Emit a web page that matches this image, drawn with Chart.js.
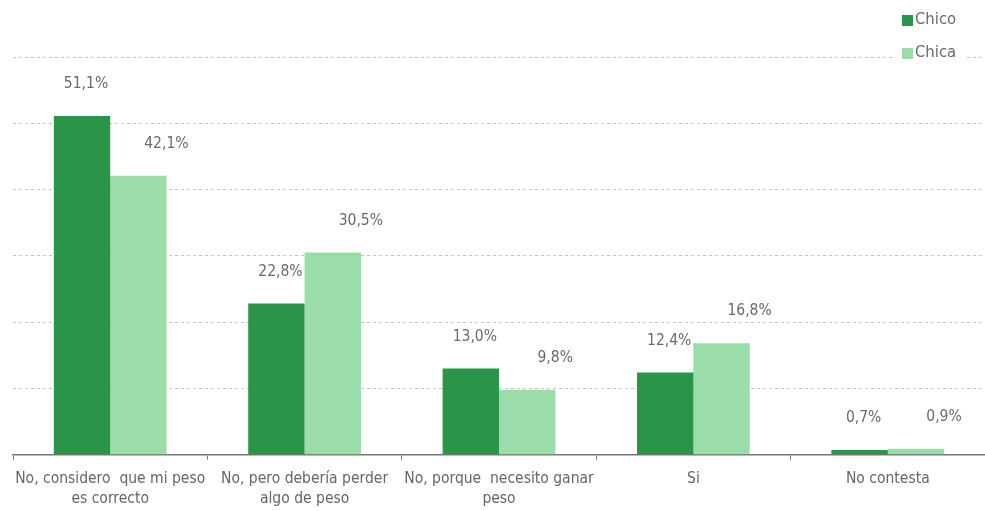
<!DOCTYPE html>
<html>
<head>
<meta charset="utf-8">
<script src="https://cdn.jsdelivr.net/npm/chart.js@4"></script>
<style>
  html, body { margin: 0; padding: 0; background: #fff; }
  #wrap { width: 985px; height: 511px; }
</style>
</head>
<body>
<div id="wrap"><canvas id="myChart"></canvas></div>
<script>
// Datos
const categories = [
    ["No, considero  que mi peso", "es correcto"],
    ["No, pero debería perder", "algo de peso"],
    ["No, porque  necesito ganar", "peso"],
    "Si",
    "No contesta",
];
const chico = [51.1, 22.8, 13.0, 12.4, 0.7];
const chica = [42.1, 30.5, 9.8, 16.8, 0.9];
const yTicks = [0, 10, 20, 30, 40, 50, 60];

const FONT = "'Liberation Sans Narrow', 'DejaVu Sans Condensed', sans-serif";
const DARK = "#2a9449";
const LIGHT = "#9bdcab";

// Etiquetas de valor sobre las barras
const valueLabels = {
    id: "valueLabels",
    afterDatasetsDraw(chart) {
        const ctx = chart.ctx;
        ctx.save();
        ctx.font = "15.5px " + FONT;
        ctx.fillStyle = "#6a6a6a";
        ctx.textAlign = "center";
        ctx.textBaseline = "middle";
        chart.data.datasets.forEach((ds, i) => {
            const meta = chart.getDatasetMeta(i);
            const shift = i === 0 ? 4 : 28;
            meta.data.forEach((bar, j) => {
                const txt = ds.data[j].toFixed(1).replace(".", ",") + "%";
                ctx.fillText(txt, bar.x + shift, bar.y - 32);
            });
        });
        ctx.restore();
    },
};

// Leyenda vertical arriba a la derecha
const sideLegend = {
    id: "sideLegend",
    afterDraw(chart) {
        const ctx = chart.ctx;
        ctx.save();
        ctx.font = "16.5px " + FONT;
        ctx.textBaseline = "middle";
        chart.data.datasets.forEach((ds, i) => {
            const y = 20 + i * 33;
            ctx.fillStyle = "#fff";
            ctx.fillRect(893, y - 10, 72, 20);
            ctx.fillStyle = ds.backgroundColor;
            ctx.fillRect(902, y - 5, 11, 11);
            ctx.fillStyle = "#6a6a6a";
            ctx.fillText(ds.label, 915, y);
        });
        ctx.restore();
    },
};

const ctx = document.getElementById("myChart").getContext("2d");
const myChart = new Chart(ctx, {
    type: "bar",
    data: {
        labels: categories,
        datasets: [
            { label: "Chico", data: chico, backgroundColor: DARK },
            { label: "Chica", data: chica, backgroundColor: LIGHT },
        ],
    },
    options: {
        responsive: true,
        maintainAspectRatio: false,
        animation: false,
        layout: { padding: { top: 57, left: 13, right: -8, bottom: -7 } },
        datasets: {
            bar: { categoryPercentage: 0.58, barPercentage: 1.0 },
        },
        plugins: {
            legend: { display: false },
            tooltip: { enabled: false },
        },
        scales: {
            x: {
                grid: {
                    offset: true,
                    drawOnChartArea: false,
                    color: "#777",
                    tickLength: 5,
                },
                border: { color: "#777", width: 1.5 },
                ticks: {
                    color: "#666",
                    font: { family: FONT, size: 15.5, lineHeight: 1.3 },
                    padding: 9,
                    maxRotation: 0,
                    autoSkip: false,
                },
            },
            y: {
                min: 0,
                max: 60,
                afterBuildTicks(scale) {
                    scale.ticks = yTicks.map((v) => ({ value: v }));
                },
                ticks: { display: false },
                border: { display: false, dash: [3, 3] },
                grid: {
                    color: (c) => (c.tick && c.tick.value === 0 ? "rgba(0,0,0,0)" : "#c4c4c4"),
                    drawTicks: false,
                },
            },
        },
    },
    plugins: [valueLabels, sideLegend],
});
</script>
</body>
</html>
